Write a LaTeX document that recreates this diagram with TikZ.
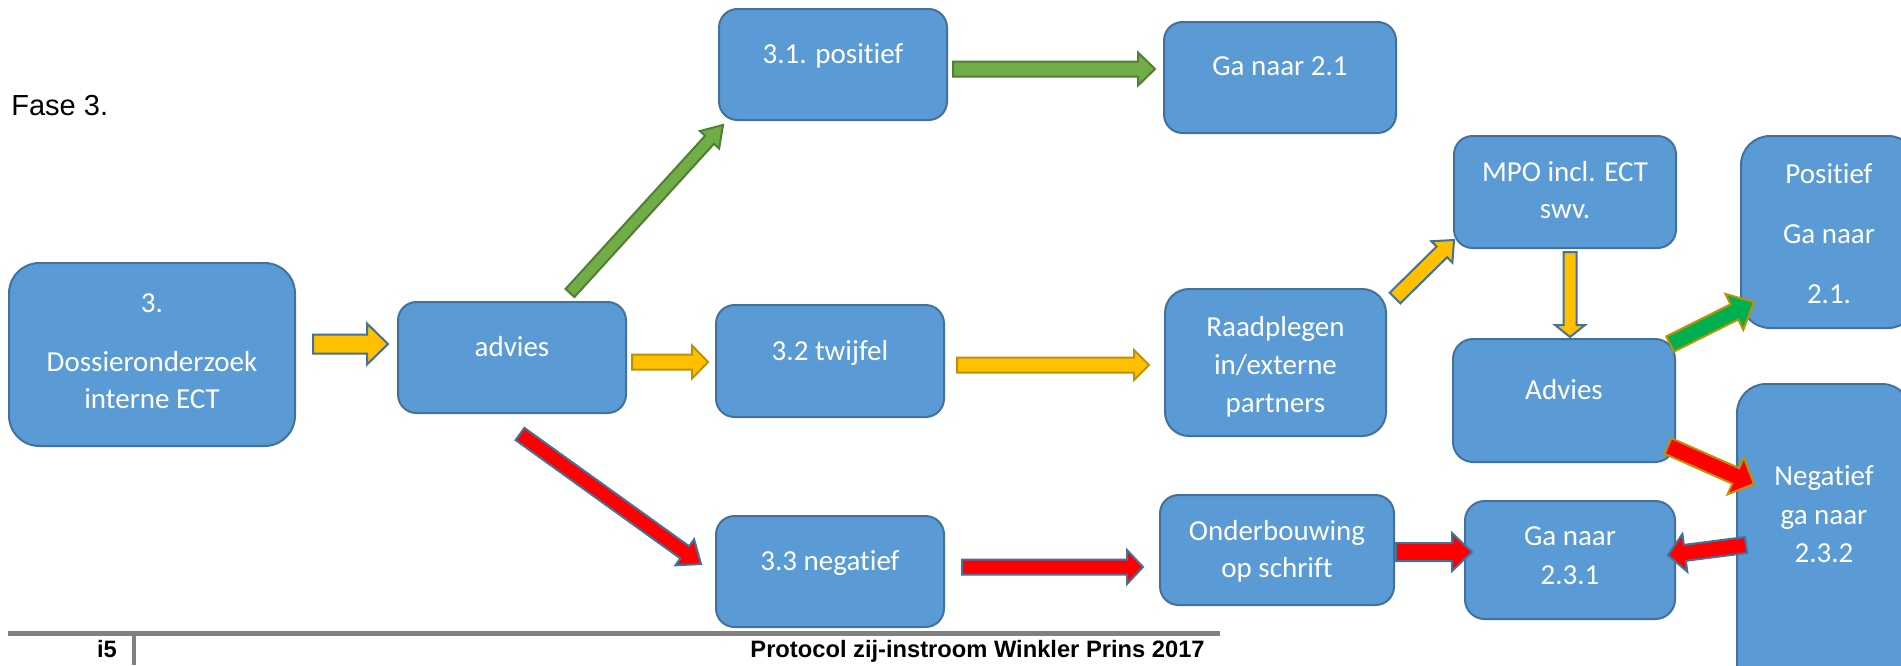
\documentclass[tikz,border=0pt]{standalone}
\usepackage{fontspec}
\setmainfont{Liberation Sans}
\newfontfamily\carlito[Ligatures=NoCommon]{Carlito}
\usetikzlibrary{calc}
\definecolor{boxfill}{HTML}{5B9BD5}
\definecolor{boxline}{HTML}{41719C}
\definecolor{ayellow}{HTML}{FFC000}
\definecolor{agold}{HTML}{BF9000}
\definecolor{agreen}{HTML}{70AD47}
\definecolor{agreenline}{HTML}{507E32}
\definecolor{bgreen}{HTML}{00B050}
\definecolor{ared}{HTML}{FF0000}
\definecolor{footgray}{HTML}{808080}
\tikzset{
  box/.style={draw=boxline, fill=boxfill, line width=1pt, inner sep=0pt},
  lbl/.style={font=\carlito\fontsize{14.5}{17}\selectfont, text=white, inner sep=0pt, anchor=base},
  yelblue/.style={fill=ayellow, draw=boxline, line width=1pt, line join=miter},
  yelgold/.style={fill=ayellow, draw=agold, line width=1pt, line join=miter},
  grn/.style={fill=agreen, draw=agreenline, line width=1pt, line join=miter},
  grngold/.style={fill=bgreen, draw=agold, line width=1pt, line join=miter},
  redblue/.style={fill=ared, draw=boxline, line width=1pt, line join=miter},
  redgold/.style={fill=ared, draw=agold, line width=1pt, line join=miter},
}
% block arrow: #1 start, #2 tip, #3 shaft half width, #4 head half width, #5 head length, #6 style
\newcommand\blockarrow[6]{%
  \coordinate (bh) at ($(#2)!#5!(#1)$);
  \draw[#6] ($(#1)!#3!90:(#2)$) -- ($(bh)!#3!90:(#2)$) -- ($(bh)!#4!90:(#2)$) -- (#2)
    -- ($(bh)!#4!-90:(#2)$) -- ($(bh)!#3!-90:(#2)$) -- ($(#1)!#3!-90:(#2)$) -- cycle;
}
\begin{document}
\begin{tikzpicture}[x=0.5pt, y=-0.5pt]
\useasboundingbox (0,0) rectangle (1901,665);
\clip (0,0) rectangle (1901,665);
\fill[white] (0,0) rectangle (1901,665);

% title
\node[font=\fontsize{14.5}{17}\selectfont, inner sep=0pt, anchor=base west] (fase) at (11,115) {Fase 3.};

% boxes
\node[box, minimum width=143pt, minimum height=91.5pt, rounded corners=15.25pt] (A) at (152,354.5) {};
\node[box, minimum width=114pt, minimum height=55.5pt, rounded corners=9.25pt] (B) at (512,357.5) {};
\node[box, minimum width=114pt, minimum height=55.5pt, rounded corners=9.25pt] (C) at (833,64.5) {};
\node[box, minimum width=116pt, minimum height=55.5pt, rounded corners=9.25pt] (D) at (1280,77.5) {};
\node[box, minimum width=114pt, minimum height=56pt, rounded corners=9.25pt] (E) at (830,361) {};
\node[box, minimum width=110.5pt, minimum height=73.5pt, rounded corners=12pt] (F) at (1275.5,362.5) {};
\node[box, minimum width=111pt, minimum height=56pt, rounded corners=9.25pt] (G) at (1565,192) {};
\node[box, minimum width=111pt, minimum height=61.5pt, rounded corners=10pt] (H) at (1564,400.5) {};
\node[box, minimum width=88pt, minimum height=96pt, rounded corners=14.5pt] (I) at (1829,232) {};
\node[box, minimum width=87pt, minimum height=168pt, rounded corners=14.5pt] (J) at (1824,552) {};
\node[box, minimum width=114pt, minimum height=55.5pt, rounded corners=9.25pt] (K) at (830,571.5) {};
\node[box, minimum width=117pt, minimum height=55pt, rounded corners=9.25pt] (L) at (1277,550) {};
\node[box, minimum width=105pt, minimum height=59pt, rounded corners=9.8pt] (M) at (1570,560) {};

% box texts
\node[lbl] (A1) at (152,312) {3.};
\node[lbl] (A2) at (152,371) {Dossieronderzoek};
\node[lbl] (A3) at (152,408) {interne ECT};
\node[lbl] (B1) at (512,356) {advies};
\node[lbl] (C1) at (833,63) {3.1. positief};
\node[lbl] (D1) at (1280,75) {Ga naar 2.1};
\node[lbl] (E1) at (830,360) {3.2 twijfel};
\node[lbl] (F1) at (1275.5,336) {Raadplegen};
\node[lbl] (F2) at (1275.5,374) {in/externe};
\node[lbl] (F3) at (1275.5,412) {partners};
\node[lbl] (G1) at (1565,181) {MPO incl. ECT};
\node[lbl] (G2) at (1565,218) {swv.};
\node[lbl] (H1) at (1564,399) {Advies};
\node[lbl] (I1) at (1829,183) {Positief};
\node[lbl] (I2) at (1829,243) {Ga naar};
\node[lbl] (I3) at (1829,303) {2.1.};
\node[lbl] (J1) at (1824,485) {Negatief};
\node[lbl] (J2) at (1824,524) {ga naar};
\node[lbl] (J3) at (1824,562) {2.3.2};
\node[lbl] (K1) at (830,570) {3.3 negatief};
\node[lbl] (L1) at (1277,540) {Onderbouwing};
\node[lbl] (L2) at (1277,577) {op schrift};
\node[lbl] (M1) at (1570,545) {Ga naar};
\node[lbl] (M2) at (1570,584) {2.3.1};

% arrow end points
\coordinate (ab0) at (313,344);   \coordinate (ab1) at (388,344);
\coordinate (bc0) at (570,293);   \coordinate (bc1) at (723,125);
\coordinate (be0) at (632,362);   \coordinate (be1) at (708,362);
\coordinate (bk0) at (520,434);   \coordinate (bk1) at (701,564);
\coordinate (cd0) at (953,69);    \coordinate (cd1) at (1155,69);
\coordinate (ef0) at (957,365);   \coordinate (ef1) at (1149,365);
\coordinate (kl0) at (962,567);   \coordinate (kl1) at (1143,567);
\coordinate (fg0) at (1395,298);  \coordinate (fg1) at (1454,240);
\coordinate (gh0) at (1570,252);  \coordinate (gh1) at (1570,337);
\coordinate (lm0) at (1396,552);  \coordinate (lm1) at (1472,552);
\coordinate (hi0) at (1670,344);  \coordinate (hi1) at (1754,302);
\coordinate (hj0) at (1668,446);  \coordinate (hj1) at (1754,484);
\coordinate (jm0) at (1746,545);  \coordinate (jm1) at (1668,555);

% arrows
\blockarrow{ab0}{ab1}{4.75pt}{10.25pt}{10.5pt}{yelblue}
\blockarrow{bc0}{bc1}{3pt}{6.5pt}{10pt}{grn}
\blockarrow{be0}{be1}{3.75pt}{8.25pt}{8pt}{yelgold}
\blockarrow{bk0}{bk1}{3.75pt}{8pt}{10pt}{redblue}
\blockarrow{cd0}{cd1}{3.75pt}{8.25pt}{8.5pt}{grn}
\blockarrow{ef0}{ef1}{3.75pt}{7.5pt}{7.5pt}{yelgold}
\blockarrow{kl0}{kl1}{3.75pt}{8.5pt}{8pt}{redblue}
\blockarrow{fg0}{fg1}{3.75pt}{7.5pt}{8.5pt}{yelblue}
\blockarrow{gh0}{gh1}{3.25pt}{7.5pt}{6pt}{yelblue}
\blockarrow{lm0}{lm1}{4.5pt}{9.5pt}{10pt}{redblue}
\blockarrow{hi0}{hi1}{4.25pt}{10pt}{11pt}{grngold}
\blockarrow{hj0}{hj1}{4.25pt}{10pt}{10pt}{redgold}
\blockarrow{jm0}{jm1}{4pt}{9.5pt}{8.5pt}{redblue}

% footer
\fill[footgray] (8,631) rectangle (1220,636);
\fill[footgray] (132,636) rectangle (136,665);
\node[font=\bfseries\fontsize{11.85}{14}\selectfont, inner sep=0pt, anchor=base] (pg) at (107,657) {i5};
\node[font=\bfseries\fontsize{11.85}{14}\selectfont, inner sep=0pt, anchor=base east] (foot) at (1205,657) {Protocol zij-instroom Winkler Prins 2017};
\end{tikzpicture}
\end{document}
